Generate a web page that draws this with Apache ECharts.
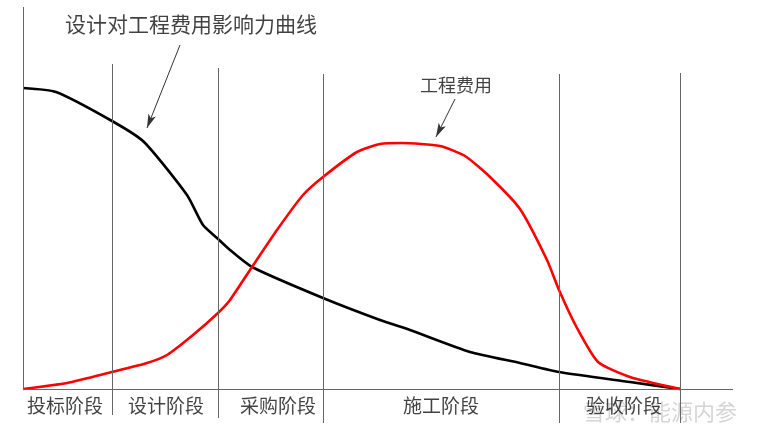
<!DOCTYPE html>
<html><head><meta charset="utf-8">
<script src="https://cdn.jsdelivr.net/npm/echarts@6/dist/echarts.min.js"></script>
<style>html,body{margin:0;padding:0;background:#fff}#c{width:760px;height:437px}</style>
</head><body><div id="c"></div>
<script>
// Curve: design influence on project cost (x = project progress, y = relative level)
const influenceCurve = [[0,301],[33,297],[89,268],[121,247],[164,194],[180,164],[194,151],[207,139],[229,122],[300,91],[357,69],[387,59],[447,37],[497,26],[536,17],[607,7],[657,0]];
// Curve: project cost
const costCurve = [[0,0],[44,6],[89,17],[124,26],[144,34],[170,54],[195,76],[207,89],[229,122],[254,159],[280,194],[300,212],[334,237],[357,245],[379,246],[417,243],[442,233],[467,212],[497,180],[524,129],[536,99],[554,61],[575,27],[607,12],[657,0]];
// Stage boundaries and their line extents
const stageBounds = [0, 89, 195, 300, 536, 657];
const boundTop = [382, 325, 321, 315, 315, 316];
const boundBottom = [0, -26, -29, -34, -34, -34];
const stageNames = ['投标阶段', '设计阶段', '采购阶段', '施工阶段', '验收阶段'];
const stageLabelX = [42, 143, 255, 418, 601];
const baselineEnd = 710;
// Annotations
const influenceLabel = '设计对工程费用影响力曲线';
const influenceLabelPos = [168, 365];
const influenceArrow = [[157, 344], [124, 261]];
const costLabel = '工程费用';
const costLabelPos = [433, 304];
const costArrow = [[432, 290], [413, 252]];
const watermark = '雪球：能源内参';
const watermarkPos = [637, -23];

const chart = echarts.init(document.getElementById('c'), null, {renderer: 'canvas'});
const font = '"Noto Sans CJK SC", "Noto Sans", sans-serif';
const boundLines = stageBounds.map((x, i) => [{coord: [x, boundTop[i]]}, {coord: [x, boundBottom[i]]}]);
boundLines.push([{coord: [0, 0]}, {coord: [baselineEnd, 0]}]);

chart.setOption({
  animation: false,
  grid: {left: 23, right: 27, top: 7, bottom: 14},
  xAxis: {type: 'value', min: 0, max: 710, show: false},
  yAxis: {type: 'value', min: -34, max: 382, show: false},
  series: [
    {
      type: 'line', data: [], silent: true,
      markLine: {
        silent: true, symbol: ['none', 'none'], label: {show: false},
        lineStyle: {color: '#666', width: 1, type: 'solid'},
        data: boundLines
      }
    },
    {
      type: 'line', data: influenceCurve, showSymbol: false, smooth: 0.2,
      lineStyle: {color: '#000', width: 2.6}, z: 3,
      markLine: {
        silent: true, symbol: ['none', 'arrow'], symbolSize: [6, 14], label: {show: false},
        lineStyle: {color: '#333', width: 1, type: 'solid'},
        data: [[{coord: influenceArrow[0]}, {coord: influenceArrow[1]}]]
      }
    },
    {
      type: 'line', data: costCurve, showSymbol: false, smooth: 0.2,
      lineStyle: {color: '#f00', width: 2.6}, z: 4,
      markLine: {
        silent: true, symbol: ['none', 'arrow'], symbolSize: [6, 14], label: {show: false},
        lineStyle: {color: '#333', width: 1, type: 'solid'},
        data: [[{coord: costArrow[0]}, {coord: costArrow[1]}]]
      }
    },
    {
      type: 'scatter', symbolSize: 0, silent: true, z: 5,
      data: [
        {value: [influenceLabelPos[0], influenceLabelPos[1]], name: influenceLabel, fs: 21},
        {value: [costLabelPos[0], costLabelPos[1]], name: costLabel, fs: 18}
      ].concat(stageNames.map((n, i) => ({value: [stageLabelX[i], -17], name: n, fs: 19}))).map(d => ({
        value: d.value, name: d.name,
        label: {show: true, position: 'inside', formatter: '{b}', fontSize: d.fs, color: '#111', fontFamily: font}
      }))
    },
    {
      type: 'scatter', symbolSize: 0, silent: true, z: 1,
      data: [{value: watermarkPos, name: watermark}],
      label: {show: true, position: 'inside', formatter: '{b}', fontSize: 22, color: 'rgba(160,160,160,0.55)', fontFamily: font}
    }
  ]
});
</script></body></html>
